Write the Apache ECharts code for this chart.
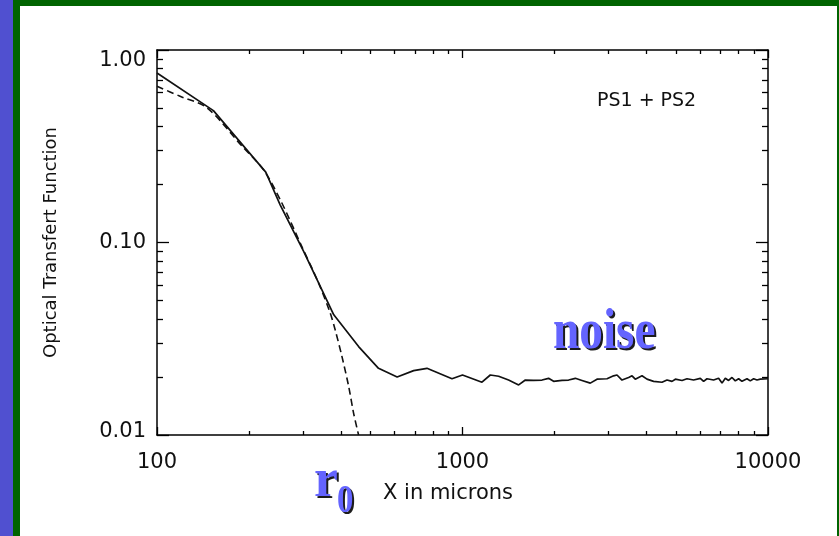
<!DOCTYPE html>
<html>
<head>
<meta charset="utf-8">
<script src="https://cdn.jsdelivr.net/npm/echarts@6/dist/echarts.min.js"></script>
<style>
  html, body { margin: 0; padding: 0; background: #ffffff; }
  #chart { width: 839px; height: 536px; }
</style>
</head>
<body>
<div id="chart"></div>
<script>
// Tick positions (log axes, major decades and minor 2..9 steps)
const xTicksMajor = [100, 1000, 10000];
const xTicksMinor = [200, 300, 400, 500, 600, 700, 800, 900,
                     2000, 3000, 4000, 5000, 6000, 7000, 8000, 9000];
const yTicksMajor = [0.01, 0.1, 1];
const yTicksMinor = [0.02, 0.03, 0.04, 0.05, 0.06, 0.07, 0.08, 0.09,
                     0.2, 0.3, 0.4, 0.5, 0.6, 0.7, 0.8, 0.9];

// Measured OTF (PS1 + PS2), solid curve
const otfX = [100, 153, 227, 253, 302, 379, 457, 531, 611, 692, 765, 924, 1000,
              1158, 1233, 1313, 1415, 1527, 1606, 1709, 1821, 1913, 1987, 2117,
              2225, 2340, 2461, 2620, 2756, 2972, 3123, 3204, 3327, 3498, 3589,
              3677, 3869, 4017, 4222, 4498, 4671, 4851, 4975, 5231, 5431, 5708,
              6003, 6155, 6314, 6637, 6890, 7071, 7249, 7430, 7624, 7816, 8013,
              8220, 8538, 8750, 8974, 9204, 9436, 10000];
const otfY = [0.76, 0.484, 0.232, 0.157, 0.090, 0.0421, 0.0288, 0.0222, 0.0200, 0.0216, 0.0222, 0.0196, 0.0205,
              0.0188, 0.0205, 0.0202, 0.0193, 0.0182, 0.0193, 0.0192, 0.0193, 0.0197, 0.0190, 0.0192,
              0.0193, 0.0197, 0.0192, 0.0186, 0.0195, 0.0196, 0.0203, 0.0205, 0.0193, 0.0199, 0.0203,
              0.0195, 0.0203, 0.0195, 0.0190, 0.0188, 0.0193, 0.0190, 0.0195, 0.0192, 0.0196, 0.0193,
              0.0197, 0.0190, 0.0196, 0.0193, 0.0197, 0.0186, 0.0197, 0.0192, 0.0199, 0.0191, 0.0196,
              0.0190, 0.0196, 0.0191, 0.0196, 0.0193, 0.0195, 0.0196];

// Turbulence model, dashed curve
const modelX = [100, 119, 146, 190, 223, 255, 300, 338, 369, 383, 403, 424, 440, 457];
const modelY = [0.648, 0.575, 0.50, 0.316, 0.239, 0.163, 0.093, 0.0616, 0.043, 0.0352, 0.0256, 0.0179, 0.013, 0.0100];

const FONT = 'DejaVu Sans';
const BLUE_TEXT = '#6464ff';
const SHADOW = '#1c1c1c';

function pairs(xs, ys) { return xs.map((x, i) => [x, ys[i]]); }

function logAxis(opts) {
  const base = {
    type: 'log',
    logBase: 10,
    gridIndex: 0,
    splitLine: { show: false },
    axisLine: { show: false, onZero: false, lineStyle: { color: '#000', width: 1.5 } },
    axisLabel: { show: false },
    axisTick: { show: true, inside: true, lineStyle: { color: '#000', width: 1.3 } },
    minorTick: { show: false }
  };
  return Object.assign(base, opts, {
    axisLine: Object.assign({}, base.axisLine, opts.axisLine || {}),
    axisLabel: Object.assign({}, base.axisLabel, opts.axisLabel || {}),
    axisTick: Object.assign({}, base.axisTick, opts.axisTick || {})
  });
}

// Bold serif slide label with a hard drop shadow underneath
function shadowedText(text, x, y, font, scaleX) {
  const common = { verticalAlign: 'middle', align: 'left', text: text, font: font };
  return [
    { type: 'text', x: x + 2, y: y + 2, scaleX: scaleX, silent: true,
      style: Object.assign({ fill: SHADOW }, common) },
    { type: 'text', x: x, y: y, scaleX: scaleX, silent: true,
      style: Object.assign({ fill: BLUE_TEXT }, common) }
  ];
}

const xRange = { min: 100, max: 10000 };
const yRange = { min: 0.01, max: 1 };

const chart = echarts.init(document.getElementById('chart'), null, { renderer: 'canvas' });

chart.setOption({
  backgroundColor: '#ffffff',
  animation: false,
  grid: { left: 157, top: 50, width: 611, height: 385, containLabel: false },
  xAxis: [
    logAxis(Object.assign({
      position: 'bottom',
      name: 'X in microns',
      nameLocation: 'middle',
      nameGap: 48,
      nameTextStyle: { fontFamily: FONT, fontSize: 21, color: '#111', padding: [0, 29, 0, 0] },
      axisLine: { show: true },
      axisLabel: {
        show: true, margin: 17, fontFamily: FONT, fontSize: 21, color: '#111',
        customValues: xTicksMajor,
        formatter: v => String(Math.round(v))
      },
      axisTick: { length: 8, customValues: xTicksMajor }
    }, xRange)),
    logAxis(Object.assign({ position: 'bottom', axisTick: { length: 4, customValues: xTicksMinor } }, xRange)),
    logAxis(Object.assign({ position: 'top', axisLine: { show: true }, axisTick: { length: 8, customValues: xTicksMajor } }, xRange)),
    logAxis(Object.assign({ position: 'top', axisTick: { length: 4, customValues: xTicksMinor } }, xRange))
  ],
  yAxis: [
    logAxis(Object.assign({
      position: 'left',
      name: 'Optical Transfert Function',
      nameLocation: 'middle',
      nameGap: 97,
      nameTextStyle: { fontFamily: FONT, fontSize: 18, color: '#111' },
      axisLine: { show: true },
      axisLabel: {
        show: true, margin: 11, fontFamily: FONT, fontSize: 21, color: '#111',
        customValues: yTicksMajor,
        verticalAlignMinLabel: 'bottom',
        verticalAlignMaxLabel: 'top',
        // end labels are kept inside the axis span
        formatter: v => (v < 0.015 ? '{lo|' : '{n|') + v.toFixed(2) + '}',
        rich: {
          lo: { fontFamily: FONT, fontSize: 21, color: '#111', lineHeight: 6 },
          n: { fontFamily: FONT, fontSize: 21, color: '#111', lineHeight: 22 }
        }
      },
      axisTick: { length: 12, customValues: yTicksMajor }
    }, yRange)),
    logAxis(Object.assign({ position: 'left', axisTick: { length: 6, customValues: yTicksMinor } }, yRange)),
    logAxis(Object.assign({ position: 'right', axisLine: { show: true }, axisTick: { length: 12, customValues: yTicksMajor } }, yRange)),
    logAxis(Object.assign({ position: 'right', axisTick: { length: 6, customValues: yTicksMinor } }, yRange))
  ],
  series: [
    {
      name: 'PS1 + PS2',
      type: 'line',
      xAxisIndex: 0, yAxisIndex: 0,
      data: pairs(otfX, otfY),
      showSymbol: false,
      symbol: 'none',
      clip: true,
      lineStyle: { color: '#111', width: 1.7 }
    },
    {
      name: 'model',
      type: 'line',
      xAxisIndex: 0, yAxisIndex: 0,
      data: pairs(modelX, modelY),
      showSymbol: false,
      symbol: 'none',
      smooth: 0.3,
      clip: true,
      lineStyle: { color: '#111', width: 1.6, type: [7, 4] }
    }
  ],
  graphic: [
    // slide frame: blue strip on the left, green border
    { type: 'rect', left: 0, top: 0, shape: { width: 13, height: 536 }, style: { fill: '#5050d0' }, silent: true },
    { type: 'rect', left: 13, top: 0, shape: { width: 7, height: 536 }, style: { fill: '#006400' }, silent: true },
    { type: 'rect', left: 13, top: 0, shape: { width: 826, height: 6 }, style: { fill: '#006400' }, silent: true },
    { type: 'rect', left: 837, top: 0, shape: { width: 2, height: 536 }, style: { fill: '#006400' }, silent: true },
    // plot annotation
    {
      type: 'text', x: 597, y: 101,
      style: { text: 'PS1 + PS2', font: '19px "DejaVu Sans"', fill: '#111', verticalAlign: 'middle', align: 'left' }
    }
  ]
  // slide annotations
  .concat(shadowedText('noise', 553, 333, 'bold 57px "Liberation Serif"', 0.83))
  .concat(shadowedText('r', 314, 482, 'bold 55px "Liberation Serif"', 0.98))
  .concat(shadowedText('0', 337, 501, 'bold 41px "Liberation Serif"', 0.8))
});
</script>
</body>
</html>
